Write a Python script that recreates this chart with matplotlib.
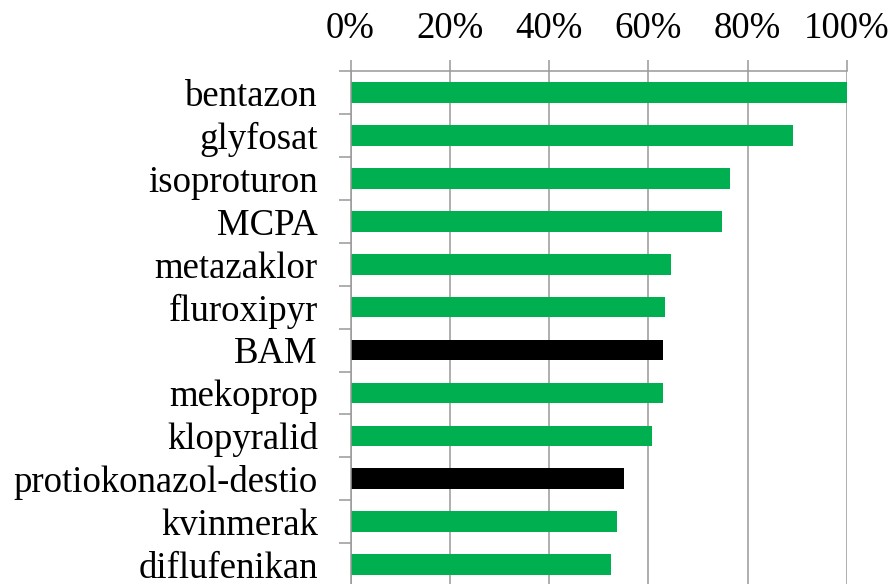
import numpy as np
import matplotlib
matplotlib.use("Agg")
import matplotlib.pyplot as plt
from matplotlib.ticker import PercentFormatter

plt.rcParams['font.family'] = ['Liberation Serif', 'DejaVu Serif']

substances = ["bentazon", "glyfosat", "isoproturon", "MCPA", "metazaklor",
              "fluroxipyr", "BAM", "mekoprop", "klopyralid",
              "protiokonazol-destio", "kvinmerak", "diflufenikan"]
share = [1.000, 0.892, 0.765, 0.748, 0.646, 0.633, 0.629, 0.629, 0.607,
         0.551, 0.537, 0.525]
# black bars = metabolites
is_metabolite = [False, False, False, False, False, False, True, False,
                 False, True, False, False]

green = "#00B050"
grey = "#999999"
colors = ["black" if m else green for m in is_metabolite]

fig = plt.figure(figsize=(8.93, 5.84), dpi=100)
ax = fig.add_axes([350.5/893, -2/584, 496.5/893, (586-71.3)/584])

y = np.arange(len(substances))
ax.barh(y, share, height=0.48, color=colors, zorder=2)

ax.set_xlim(0, 1)
ax.set_ylim(len(substances) - 0.5, -0.5)

ax.xaxis.tick_top()
ax.set_xticks(np.arange(0, 1.01, 0.2))
ax.xaxis.set_major_formatter(PercentFormatter(1.0, decimals=0))
ax.tick_params(axis='x', direction='out', length=8, width=1.1, color=grey,
               labelsize=26.5, pad=10)
ax.grid(axis='x', color=grey, linewidth=1.1, zorder=0)
ax.set_axisbelow(True)

ax.set_yticks(y)
ax.set_yticklabels(substances)
ax.set_yticks(np.arange(len(substances) + 1) - 0.5, minor=True)
ax.tick_params(axis='y', which='major', length=0, labelsize=26.5, pad=23.5)
ax.tick_params(axis='y', which='minor', direction='out', length=8.6,
               width=1.1, color=grey)

for side in ['right', 'bottom']:
    ax.spines[side].set_visible(False)
for side in ['top', 'left']:
    ax.spines[side].set_color(grey)
    ax.spines[side].set_linewidth(1.1)

fig.savefig("out.png", dpi=100)
